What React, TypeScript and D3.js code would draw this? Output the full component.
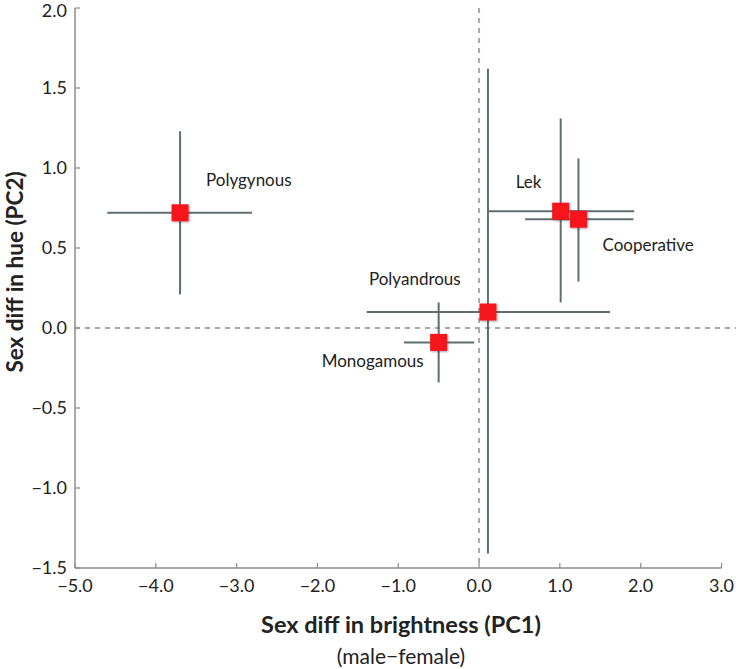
import React from "react";
import * as d3 from "d3";

const groups = ["Polygynous", "Lek", "Cooperative", "Polyandrous", "Monogamous"];
const pc1 = [-3.70, 1.01, 1.23, 0.11, -0.50];
const pc1Low = [-4.60, 0.10, 0.57, -1.39, -0.93];
const pc1High = [-2.81, 1.92, 1.91, 1.62, -0.06];
const pc2 = [0.72, 0.73, 0.68, 0.10, -0.09];
const pc2Low = [0.21, 0.16, 0.29, -1.41, -0.34];
const pc2High = [1.23, 1.31, 1.06, 1.62, 0.16];
const xTicks = [-5, -4, -3, -2, -1, 0, 1, 2, 3];
const yTicks = [-1.5, -1.0, -0.5, 0, 0.5, 1.0, 1.5, 2.0];

// label offsets (px) relative to point
const labelDx = [26, -45, 24, -119, -117];
const labelDy = [-27, -23, 32, -27, 25];

const W = 736;
const H = 669;
const font = "Lato, 'Open Sans', sans-serif";

const fmt = (v: number) => (v < 0 ? "\u2212" + Math.abs(v).toFixed(1) : v.toFixed(1));

export default function App() {
  const x = d3.scaleLinear().domain([-5, 3]).range([75, 721.5]);
  const y = d3.scaleLinear().domain([-1.5, 2]).range([568, 8]);
  const axisColor = "#8c8c8c";
  const barColor = "#5e6e6e";
  const sq = 17;
  return (
    <div style={{ position: "absolute", left: 0, top: 0 }}>
      <svg width={W} height={H} style={{ display: "block", background: "#fff" }}>
        <defs>
          <filter id="sh" x="-30%" y="-30%" width="160%" height="160%">
            <feGaussianBlur in="SourceAlpha" stdDeviation="1" />
            <feOffset dx="1" dy="1" result="b" />
            <feComponentTransfer><feFuncA type="linear" slope="0.35" /></feComponentTransfer>
            <feMerge><feMergeNode /><feMergeNode in="SourceGraphic" /></feMerge>
          </filter>
        </defs>
        {/* reference dashed lines */}
        <line x1={x(0)} x2={x(0)} y1={y(2)} y2={y(-1.5)} stroke="#a8a8a8" strokeWidth={2} strokeDasharray="5,5" />
        <line x1={x(-5)} x2={W} y1={y(0)} y2={y(0)} stroke="#a8a8a8" strokeWidth={2} strokeDasharray="5,5" />
        {/* axes */}
        <line x1={x(-5)} x2={x(-5)} y1={y(2)} y2={y(-1.5)} stroke={axisColor} strokeWidth={1.5} />
        <line x1={x(-5)} x2={x(3)} y1={y(-1.5)} y2={y(-1.5)} stroke={axisColor} strokeWidth={1.5} />
        {xTicks.map((t) => (
          <g key={"x" + t}>
            <line x1={x(t)} x2={x(t)} y1={y(-1.5)} y2={y(-1.5) - 5} stroke={axisColor} strokeWidth={1.2} />
            <text x={x(t)} y={y(-1.5) + 24} textAnchor="middle" fontFamily={font} fontSize={18} fill="#222">
              {fmt(t)}
            </text>
          </g>
        ))}
        {yTicks.map((t) => (
          <g key={"y" + t}>
            <line x1={x(-5)} x2={x(-5) + 5} y1={y(t)} y2={y(t)} stroke={axisColor} strokeWidth={1.2} />
            <text x={x(-5) - 8} y={Math.max(y(t), 11)} dy="0.36em" textAnchor="end" fontFamily={font} fontSize={18} fill="#222">
              {fmt(t)}
            </text>
          </g>
        ))}
        {/* error bars */}
        {groups.map((g, i) => (
          <g key={"e" + g}>
            <line x1={x(pc1Low[i])} x2={x(pc1High[i])} y1={y(pc2[i])} y2={y(pc2[i])} stroke={barColor} strokeWidth={2} />
            <line x1={x(pc1[i])} x2={x(pc1[i])} y1={y(pc2Low[i])} y2={y(pc2High[i])} stroke={barColor} strokeWidth={2} />
          </g>
        ))}
        {/* points */}
        {groups.map((g, i) => (
          <rect key={"p" + g} x={x(pc1[i]) - sq / 2} y={y(pc2[i]) - sq / 2} width={sq} height={sq} fill="#f5121c" filter="url(#sh)" />
        ))}
        {/* labels */}
        {groups.map((g, i) => (
          <text key={"l" + g} x={x(pc1[i]) + labelDx[i]} y={y(pc2[i]) + labelDy[i]} fontFamily={font} fontSize={17} fill="#222">
            {g}
          </text>
        ))}
        {/* axis titles */}
        <text x={401} y={633} textAnchor="middle" fontFamily={font} fontSize={23.5} fontWeight="bold" fill="#222">
          Sex diff in brightness (PC1)
        </text>
        <text x={401} y={664} textAnchor="middle" fontFamily={font} fontSize={21} fill="#222">
          (male{"\u2212"}female)
        </text>
        <text transform={`translate(23,${272}) rotate(-90)`} textAnchor="middle" fontFamily={font} fontSize={22.5} fontWeight="bold" fill="#222">
          Sex diff in hue (PC2)
        </text>
      </svg>
    </div>
  );
}
